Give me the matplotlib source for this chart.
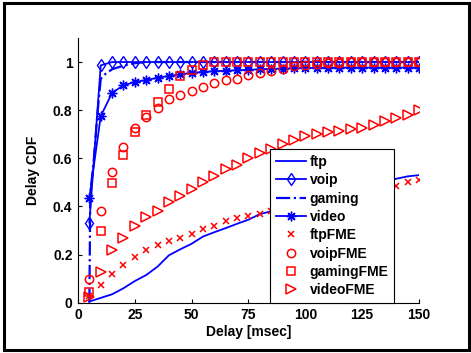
import matplotlib
matplotlib.use("Agg")
import matplotlib.pyplot as plt
from matplotlib.patches import Rectangle

plt.rcParams['font.family'] = ['Liberation Sans', 'DejaVu Sans']
plt.rcParams['font.weight'] = 'bold'

# Delay grid (ms) shared by the sampled series
delay = [5, 10, 15, 20, 25, 30, 35, 40, 45, 50, 55, 60, 65, 70, 75,
         80, 85, 90, 95, 100, 105, 110, 115, 120, 125, 130, 135, 140, 145, 150]

ftp = [0.005, 0.02, 0.035, 0.06, 0.09, 0.115, 0.15, 0.197, 0.222, 0.245,
       0.275, 0.293, 0.31, 0.328, 0.345, 0.368, 0.38, 0.39, 0.405, 0.42,
       0.435, 0.45, 0.46, 0.475, 0.488, 0.5, 0.508, 0.515, 0.525, 0.53]
voip = [0.333, 0.986] + [1.0] * 28
video = [0.435, 0.775, 0.872, 0.903, 0.917, 0.925, 0.935, 0.942, 0.949, 0.955,
         0.959, 0.962, 0.964, 0.966, 0.968, 0.970, 0.972, 0.973, 0.974, 0.975,
         0.976, 0.976, 0.977, 0.977, 0.977, 0.977, 0.977, 0.977, 0.977, 0.977]

# gaming is sampled more finely near the origin
gaming_delay = [5, 5.4, 7, 8.5, 10, 12, 15, 20, 25, 30, 150]
gaming = [0.0, 0.45, 0.6, 0.78, 0.93, 0.95, 0.97, 0.985, 0.995, 1.0, 1.0]

ftp_fme = [0.028, 0.074, 0.12, 0.156, 0.189, 0.22, 0.238, 0.256, 0.267, 0.286,
           0.306, 0.317, 0.339, 0.352, 0.361, 0.37, 0.38, 0.39, 0.4, 0.41,
           0.42, 0.43, 0.44, 0.448, 0.456, 0.465, 0.474, 0.483, 0.5, 0.511]
voip_fme = [0.097, 0.383, 0.542, 0.647, 0.725, 0.77, 0.81, 0.847, 0.861, 0.879,
            0.896, 0.911, 0.925, 0.931, 0.945, 0.953, 0.962, 0.972, 0.983, 0.989,
            0.993, 0.996, 0.998, 0.999, 1.0, 1.0, 1.0, 1.0, 1.0, 1.0]
gaming_fme = [0.046, 0.3, 0.497, 0.615, 0.71, 0.779, 0.833, 0.886, 0.942, 0.968,
              0.988] + [1.0] * 19
video_fme = [0.025, 0.129, 0.217, 0.27, 0.317, 0.358, 0.383, 0.418, 0.442, 0.472,
             0.5, 0.528, 0.556, 0.574, 0.601, 0.622, 0.64, 0.66, 0.675, 0.692,
             0.7, 0.708, 0.713, 0.722, 0.727, 0.74, 0.754, 0.768, 0.779, 0.799]

x_ticks = [0, 25, 50, 75, 100, 125, 150]
y_ticks = [0, 0.2, 0.4, 0.6, 0.8, 1]
y_tick_labels = ['0', '0.2', '0.4', '0.6', '0.8', '1']

fig = plt.figure(figsize=(4.71, 3.53), dpi=100)
ax = fig.add_axes([0.1656, 0.1425, 0.724, 0.7499])

blue = (0, 0, 1)
red = (1, 0, 0)
lw = 1.3
fs = 10

ax.plot(delay, ftp, '-', color=blue, lw=lw, label='ftp')
ax.plot(delay, voip, '-', color=blue, lw=lw, marker='d', ms=6.5,
        mfc='none', mew=1.0, label='voip')
ax.plot(gaming_delay, gaming, '-.', color=blue, lw=lw + 0.3, label='gaming')
ax.plot(delay, video, '-', color=blue, lw=lw, marker=(8, 2, 0), ms=7,
        mew=1.0, label='video')
ax.plot(delay, ftp_fme, 'x', color=red, ms=5, mew=1.1, label='ftpFME')
ax.plot(delay, voip_fme, 'o', color=red, ms=6, mfc='none', mew=1.1,
        label='voipFME')
ax.plot(delay, gaming_fme, 's', color=red, ms=5.5, mfc='none', mew=1.1,
        label='gamingFME')
ax.plot(delay, video_fme, '>', color=red, ms=7, mfc='none', mew=1.1,
        label='videoFME')

ax.set_xlim(0, 150)
ax.set_ylim(0, 1.1)
ax.set_xticks(x_ticks)
ax.set_xticklabels([str(t) for t in x_ticks])
ax.set_yticks(y_ticks)
ax.set_yticklabels(y_tick_labels)
ax.tick_params(direction='in', length=3, width=0.8, labelsize=fs, pad=4)
for lab in ax.get_xticklabels() + ax.get_yticklabels():
    lab.set_fontweight('bold')
ax.spines['top'].set_visible(False)
ax.spines['right'].set_visible(False)
ax.spines['left'].set_linewidth(0.8)
ax.spines['bottom'].set_linewidth(0.8)

ax.set_xlabel('Delay [msec]', fontsize=fs, fontweight='bold', labelpad=2)
ax.set_ylabel('Delay CDF', fontsize=fs, fontweight='bold', labelpad=9)

leg = ax.legend(loc='lower left', bbox_to_anchor=(0.563, 0.0),
                fancybox=False, framealpha=1, edgecolor='black', fontsize=fs,
                handlelength=2.2, handletextpad=0.25, labelspacing=0.31,
                borderpad=0.4, borderaxespad=0)
leg.get_frame().set_linewidth(0.8)
for t in leg.get_texts():
    t.set_fontweight('bold')

# outer frame around the whole figure
fig.patches.append(Rectangle((4 / 471, 3 / 353), 465 / 471, 347 / 353,
                             transform=fig.transFigure, fill=False,
                             edgecolor='black', linewidth=2.2))

fig.savefig('out.png', dpi=100)
